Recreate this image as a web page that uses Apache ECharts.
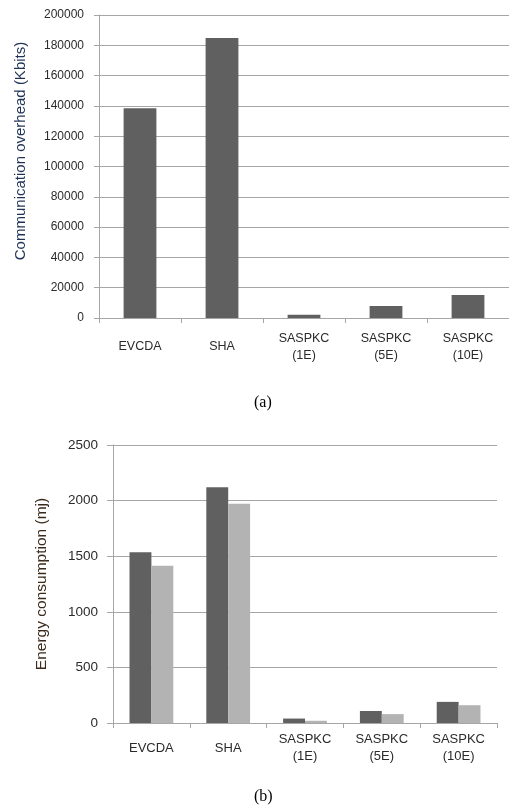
<!DOCTYPE html>
<html>
<head>
<meta charset="utf-8">
<script src="https://cdn.jsdelivr.net/npm/echarts@6/dist/echarts.min.js"></script>
<style>
html,body{margin:0;padding:0;background:#fff;}
#c{width:509px;height:808px;}
</style>
</head>
<body>
<div id="c"></div>
<script>
var categories = ['EVCDA', 'SHA', 'SASPKC\n(1E)', 'SASPKC\n(5E)', 'SASPKC\n(10E)'];
var commOverhead = [138500, 184800, 2200, 7900, 15200];
var energyDark = [1535, 2120, 40, 108, 190];
var energyLight = [1415, 1972, 20, 80, 160];
var commTicks = [0, 20000, 40000, 60000, 80000, 100000, 120000, 140000, 160000, 180000, 200000];
var energyTicks = [0, 500, 1000, 1500, 2000, 2500];

var axisGrey = '#a6a6a6';
var textCol = '#2b2b2b';
var font = 'Liberation Sans';
function plain(v) { return String(v); }

var chart = echarts.init(document.getElementById('c'), null, {renderer: 'canvas'});
chart.setOption({
  animation: false,
  backgroundColor: '#fff',
  title: [
    {text: '(a)', left: 254, top: 395, padding: 0,
     textStyle: {fontFamily: 'Liberation Serif', fontSize: 16, fontWeight: 'normal', color: '#000'}},
    {text: '(b)', left: 254, top: 789, padding: 0,
     textStyle: {fontFamily: 'Liberation Serif', fontSize: 16, fontWeight: 'normal', color: '#000'}}
  ],
  grid: [
    {left: 99, top: 15, width: 418, height: 303},
    {left: 113, top: 445, width: 384, height: 278}
  ],
  xAxis: [
    {gridIndex: 0, type: 'category', data: categories,
     axisLine: {lineStyle: {color: axisGrey}},
     axisTick: {show: true, length: 5, lineStyle: {color: axisGrey}},
     axisLabel: {interval: 0, margin: 29, verticalAlign: 'middle', lineHeight: 17,
                 fontFamily: font, fontSize: 12.5, color: textCol}},
    {gridIndex: 1, type: 'category', data: categories,
     axisLine: {lineStyle: {color: axisGrey}},
     axisTick: {show: true, length: 5, lineStyle: {color: axisGrey}},
     axisLabel: {interval: 0, margin: 25, verticalAlign: 'middle', lineHeight: 17.5,
                 fontFamily: font, fontSize: 13, color: textCol}}
  ],
  yAxis: [
    {gridIndex: 0, type: 'value', min: commTicks[0], max: commTicks[commTicks.length - 1],
     interval: commTicks[1] - commTicks[0],
     name: 'Communication overhead (Kbits)', nameLocation: 'middle', nameGap: 71,
     nameTextStyle: {fontFamily: font, fontSize: 15, color: '#1f3356', padding: [0, 0, 0, 31]},
     axisLine: {show: true, lineStyle: {color: axisGrey}},
     axisTick: {show: true, length: 5, lineStyle: {color: axisGrey}},
     axisLabel: {margin: 15, fontFamily: font, fontSize: 12, color: textCol, formatter: plain},
     splitLine: {lineStyle: {color: axisGrey}}},
    {gridIndex: 1, type: 'value', min: energyTicks[0], max: energyTicks[energyTicks.length - 1],
     interval: energyTicks[1] - energyTicks[0],
     name: 'Energy consumption (mj)', nameLocation: 'middle', nameGap: 63,
     nameTextStyle: {fontFamily: font, fontSize: 15.5, color: '#3a2a1a'},
     axisLine: {show: true, lineStyle: {color: axisGrey}},
     axisTick: {show: true, length: 6, lineStyle: {color: axisGrey}},
     axisLabel: {margin: 15, fontFamily: font, fontSize: 13.5, color: textCol, formatter: plain},
     splitLine: {lineStyle: {color: axisGrey}}}
  ],
  series: [
    {type: 'bar', xAxisIndex: 0, yAxisIndex: 0, data: commOverhead,
     barCategoryGap: '60%', itemStyle: {color: '#606060'}},
    {type: 'bar', xAxisIndex: 1, yAxisIndex: 1, data: energyDark,
     barCategoryGap: '43%', barGap: '0%', itemStyle: {color: '#606060'}},
    {type: 'bar', xAxisIndex: 1, yAxisIndex: 1, data: energyLight,
     barCategoryGap: '43%', barGap: '0%', itemStyle: {color: '#b3b3b3'}}
  ]
});
</script>
</body>
</html>
